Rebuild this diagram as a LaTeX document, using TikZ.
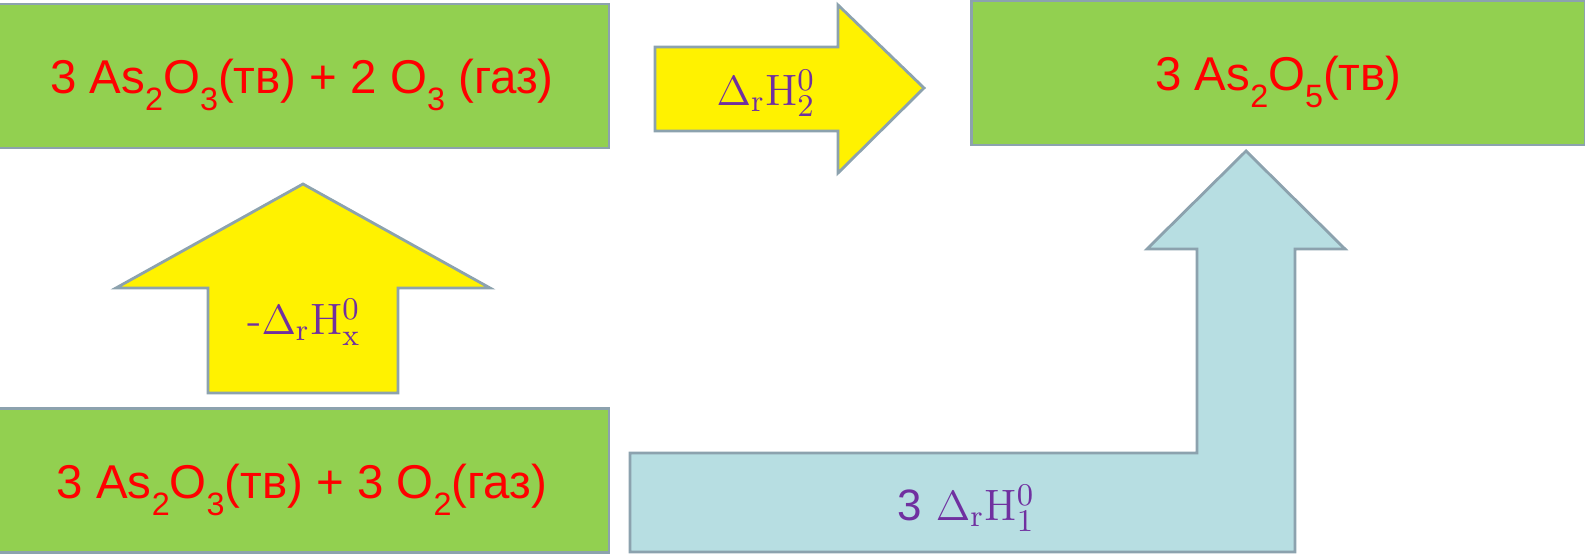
\documentclass[tikz,border=0pt]{standalone}
\usepackage{fontspec}
\usepackage{tikz}
\usetikzlibrary{positioning, calc}
\newfontfamily\chemfont{Liberation Sans}
\definecolor{boxgreen}{RGB}{146,208,80}
\definecolor{edgegray}{RGB}{140,162,174}
\definecolor{lightcyan}{RGB}{183,222,226}
\definecolor{labelpurple}{RGB}{112,48,160}
\newcommand{\lo}[1]{\smash{\raisebox{-0.36em}{\fontsize{9.2}{10}\selectfont #1}}}
\tikzstyle{enbox}=[%
      rectangle, draw=edgegray, line width=0.8pt, fill=boxgreen,
      text=red, font=\chemfont\fontsize{13.5}{16}\selectfont,
      minimum width=6.14cm, minimum height=1.44cm, inner sep=0pt,
      text height=0.35cm, text depth=0cm
]
\tikzstyle{yarrow}=[%
      draw=edgegray, line width=0.8pt, fill=yellow
]
\tikzstyle{barrow}=[%
      draw=edgegray, line width=0.8pt, fill=lightcyan
]
\tikzstyle{dh}=[%
      text=labelpurple, font=\fontsize{12.5}{14}\selectfont, inner sep=0pt
]

\begin{document}
\begin{tikzpicture}
    \clip (0,0) rectangle (15.85,5.54);

    % arrows between the levels
    \draw[yarrow] (6.55,5.07) -- (8.38,5.07) -- (8.38,5.49) -- (9.24,4.66)
                  -- (8.38,3.81) -- (8.38,4.23) -- (6.55,4.23) -- cycle;
    \draw[yarrow] (2.08,1.61) -- (3.98,1.61) -- (3.98,2.66) -- (4.90,2.66)
                  -- (3.03,3.70) -- (1.16,2.66) -- (2.08,2.66) -- cycle;
    \draw[barrow] (6.30,1.01) -- (11.97,1.01) -- (11.97,3.05) -- (11.47,3.05)
                  -- (12.46,4.03) -- (13.45,3.05) -- (12.95,3.05) -- (12.95,0.02)
                  -- (6.30,0.02) -- cycle;

    % levels
    \node[enbox] (start)  at (3.02,4.78)   {3 As\lo{2}O\lo{3}(тв) + 2 O\lo{3} (газ)};
    \node[enbox] (final)  at (12.785,4.81) {3 As\lo{2}O\lo{5}(тв)};
    \node[enbox] (oxygen) at (3.02,0.735)  {3 As\lo{2}O\lo{3}(тв) + 3 O\lo{2}(газ)};

    \node[dh] (h2) at (7.66,4.61) {$\Delta_{\mathrm{r}}\mathrm{H}^0_2$};
    \node[dh] (hx) at (3.04,2.32) {-$\Delta_{\mathrm{r}}\mathrm{H}^0_{\mathrm{x}}$};
    \node[dh] (h1) at (9.66,0.46) {{\chemfont 3} $\Delta_{\mathrm{r}}\mathrm{H}^0_1$};
\end{tikzpicture}
\end{document}
